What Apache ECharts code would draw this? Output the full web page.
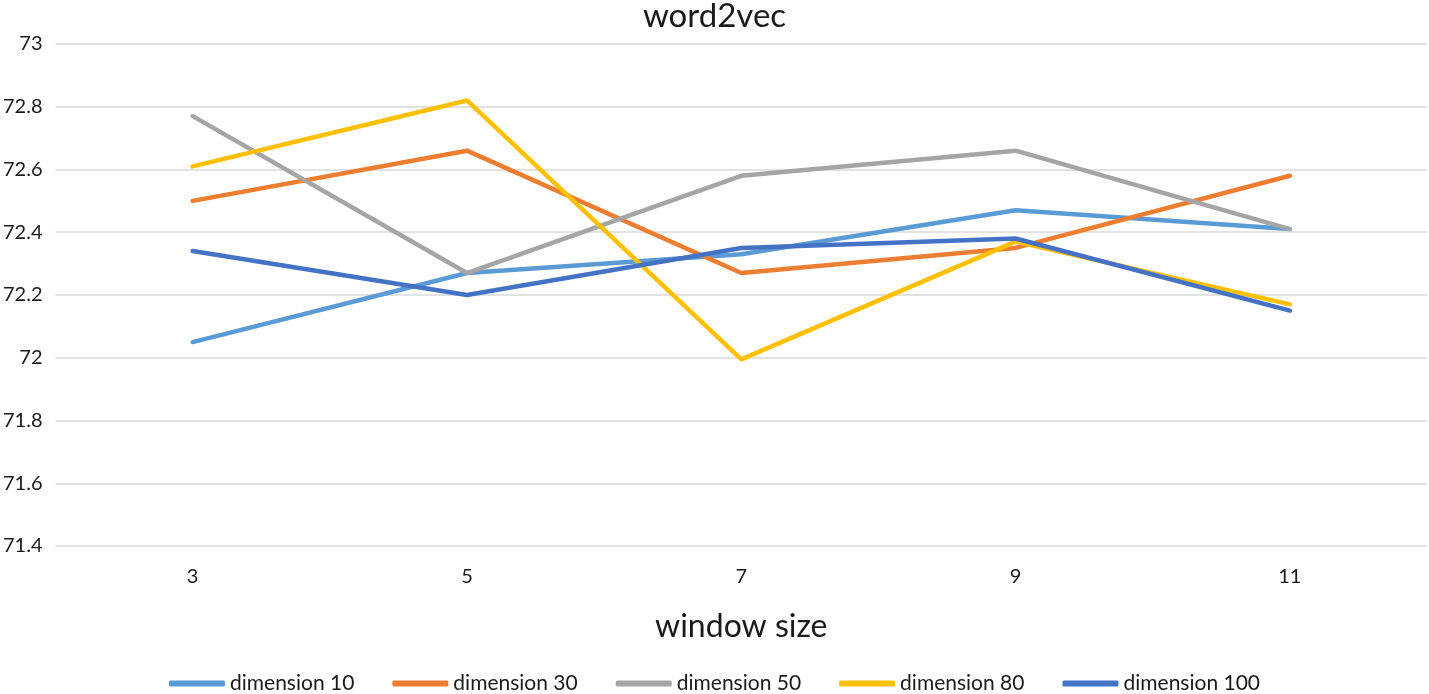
<!DOCTYPE html>
<html>
<head>
<meta charset="utf-8">
<style>html,body{margin:0;padding:0;background:#fff;}#c{width:1429px;height:694px;}</style>
<script src="https://cdn.jsdelivr.net/npm/echarts@6/dist/echarts.min.js"></script>
</head>
<body>
<div id="c"></div>
<script>
const categories = ['3', '5', '7', '9', '11'];
const dim10 = [72.05, 72.27, 72.33, 72.47, 72.41];
const dim30 = [72.50, 72.66, 72.27, 72.35, 72.58];
const dim50 = [72.77, 72.27, 72.58, 72.66, 72.41];
const dim80 = [72.61, 72.82, 71.995, 72.37, 72.17];
const dim100 = [72.34, 72.20, 72.35, 72.38, 72.15];
const seriesNames = ['dimension 10', 'dimension 30', 'dimension 50', 'dimension 80', 'dimension 100'];
const seriesData = [dim10, dim30, dim50, dim80, dim100];
const colors = ['#5B9BD5', '#ED7D31', '#A5A5A5', '#FFC000', '#4472C4'];
const FONT = 'Lato';

const chart = echarts.init(document.getElementById('c'));
chart.setOption({
  animation: false,
  color: colors,
  textStyle: { fontFamily: FONT },
  title: {
    text: 'word2vec', left: 'center', top: 0, padding: 0,
    textStyle: { fontFamily: FONT, fontSize: 33, fontWeight: 'normal', color: '#1a1a1a' }
  },
  grid: { left: 53, right: 2, top: 44, bottom: 148 },
  legend: {
    top: 673, left: 'center', padding: 0, itemGap: 38, itemWidth: 56, itemHeight: 6, icon: 'roundRect',
    textStyle: { fontFamily: FONT, fontSize: 21, color: '#1a1a1a' },
    data: seriesNames
  },
  xAxis: {
    type: 'category', data: categories, boundaryGap: true,
    name: 'window size', nameLocation: 'middle', nameGap: 65,
    nameTextStyle: { fontFamily: FONT, fontSize: 32, color: '#1a1a1a' },
    axisLine: { show: false }, axisTick: { show: false },
    axisLabel: { fontFamily: FONT, fontSize: 20, color: '#1a1a1a', margin: 21 }
  },
  yAxis: {
    type: 'value', min: 71.4, max: 73, interval: 0.2,
    axisLine: { show: false }, axisTick: { show: false },
    axisLabel: { fontFamily: FONT, fontSize: 20, color: '#1a1a1a', margin: 13,
      formatter: v => String(Math.round(v * 10) / 10) },
    splitLine: { lineStyle: { color: '#d9d9d9', width: 1.5 } }
  },
  series: seriesData.map((d, i) => ({
    name: seriesNames[i], type: 'line', data: d, showSymbol: false, symbol: 'none',
    lineStyle: { width: 4.5, color: colors[i], cap: 'round' },
    itemStyle: { color: colors[i] }
  }))
});
</script>
</body>
</html>
